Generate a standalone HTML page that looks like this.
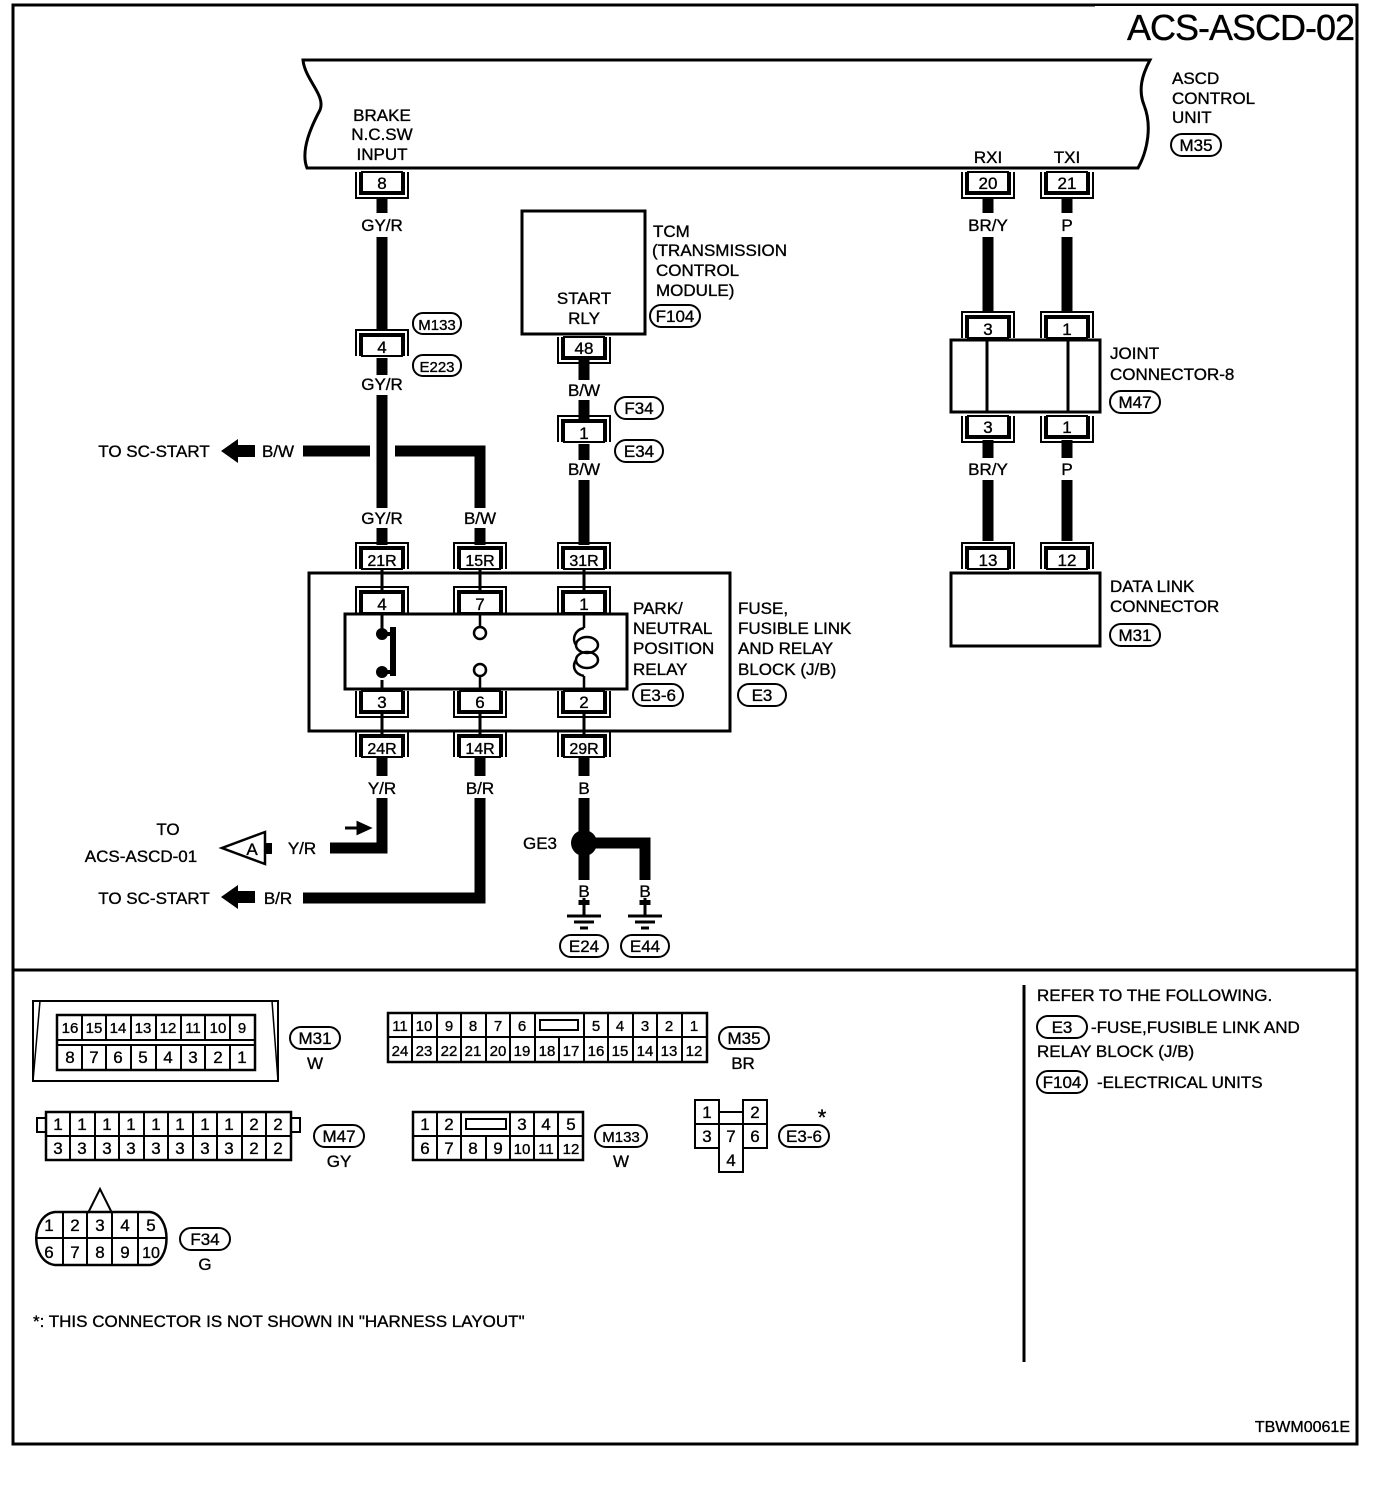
<!DOCTYPE html>
<html><head><meta charset="utf-8"><style>
html,body{margin:0;padding:0;background:#fff}
svg{display:block}
text{font-family:"Liberation Sans",Arial,sans-serif;font-size:17px;fill:#000;stroke:#000;stroke-width:0.35px}
.c{text-anchor:middle}
</style></head><body>
<svg width="1376" height="1506" viewBox="0 0 1376 1506" xmlns="http://www.w3.org/2000/svg">
<defs>
<g id="U"><rect x="-20" y="0" width="40" height="20" fill="#fff" stroke="#000" stroke-width="2"/><path d="M-26 0V26H26V0M-22 0V22H22V0" fill="none" stroke="#000" stroke-width="2"/></g>
<g id="N"><rect x="-20" y="6" width="40" height="20" fill="#fff" stroke="#000" stroke-width="2"/><path d="M-26 26V0H26V26M-22 26V4H22V26" fill="none" stroke="#000" stroke-width="2"/></g>
<g id="gnd"><path d="M0 0V18M-17 18H17M-10 24H10M-4 30H4" stroke="#000" stroke-width="3" fill="none"/></g>
</defs>
<rect x="13" y="5" width="1344" height="1439" fill="none" stroke="#000" stroke-width="3"/>
<rect x="1095" y="6" width="260" height="40" fill="#fff"/>
<text x="1354" y="40" style="font-size:36px;text-anchor:end;letter-spacing:-1px">ACS-ASCD-02</text>
<line x1="13" y1="970" x2="1357" y2="970" stroke="#000" stroke-width="3"/>
<line x1="1024" y1="985" x2="1024" y2="1362" stroke="#000" stroke-width="3"/>

<path d="M303 60H1150C1142 75 1138 90 1144 105C1152 125 1148 150 1138 168H307C300 150 312 125 320 110C326 95 305 80 303 60Z" fill="none" stroke="#000" stroke-width="3"/>
<text x="382" y="121" class="c">BRAKE</text><text x="382" y="140" class="c">N.C.SW</text><text x="382" y="160" class="c">INPUT</text>
<text x="988" y="163" class="c">RXI</text><text x="1067" y="163" class="c">TXI</text>
<text x="1172" y="84">ASCD</text><text x="1172" y="104">CONTROL</text><text x="1172" y="123">UNIT</text>
<rect x="1171" y="134" width="50" height="22" rx="11" fill="none" stroke="#000" stroke-width="2"/><text x="1196" y="151" class="c">M35</text>

<g stroke="#000" stroke-width="11" fill="none">
<path d="M382 197V213M382 237V330M382 358V375M382 395V508"/>
<path d="M584 360V380M584 400V420M584 444V460M584 480V545"/>
<path d="M303 451H370M395 451H480V508"/>
<path d="M382 528V545M480 528V545"/>
<path d="M988 197V213M988 237V312M1067 197V213M1067 237V312"/>
<path d="M988 440V458M988 480V541M1067 440V458M1067 480V541"/>
<path d="M382 757V776M480 757V776M584 757V776"/>
<path d="M382 798V848H330M480 798V898H303"/>
<path d="M584 798V880M595 843H645V880M584 900V905"/>
</g>
<use href="#U" x="382" y="172"/><text x="382" y="189" class="c">8</text>
<use href="#U" x="988" y="172"/><text x="988" y="189" class="c">20</text>
<use href="#U" x="1067" y="172"/><text x="1067" y="189" class="c">21</text>
<text x="382" y="231" class="c">GY/R</text>
<text x="988" y="231" class="c">BR/Y</text><text x="1067" y="231" class="c">P</text>
<use href="#N" x="382" y="330"/><text x="382" y="353" class="c">4</text>
<rect x="413" y="313" width="48" height="21" rx="10" fill="none" stroke="#000" stroke-width="2"/><text x="437" y="330" class="c" style="font-size:15px">M133</text>
<rect x="413" y="355" width="48" height="21" rx="10" fill="none" stroke="#000" stroke-width="2"/><text x="437" y="372" class="c" style="font-size:15px">E223</text>
<text x="382" y="390" class="c">GY/R</text>
<text x="154" y="457" class="c">TO SC-START</text>
<path d="M221 451L238 439V445H255V457H238V463Z" fill="#000"/>
<text x="278" y="457" class="c">B/W</text>
<text x="382" y="524" class="c">GY/R</text><text x="480" y="524" class="c">B/W</text>

<rect x="522" y="211" width="123" height="123" fill="none" stroke="#000" stroke-width="3"/>
<text x="584" y="304" class="c">START</text><text x="584" y="324" class="c">RLY</text>
<text x="653" y="237">TCM</text><text x="652" y="256">(TRANSMISSION</text><text x="656" y="276">CONTROL</text><text x="656" y="296">MODULE)</text>
<rect x="650" y="305" width="50" height="22" rx="11" fill="none" stroke="#000" stroke-width="2"/><text x="675" y="322" class="c">F104</text>
<use href="#U" x="584" y="337"/><text x="584" y="354" class="c">48</text>
<text x="584" y="396" class="c">B/W</text>
<use href="#N" x="584" y="416"/><text x="584" y="439" class="c">1</text>
<rect x="615" y="397" width="48" height="22" rx="11" fill="none" stroke="#000" stroke-width="2"/><text x="639" y="414" class="c">F34</text>
<rect x="615" y="440" width="48" height="22" rx="11" fill="none" stroke="#000" stroke-width="2"/><text x="639" y="457" class="c">E34</text>
<text x="584" y="475" class="c">B/W</text>

<use href="#N" x="988" y="312"/><text x="988" y="335" class="c">3</text>
<use href="#N" x="1067" y="312"/><text x="1067" y="335" class="c">1</text>
<rect x="951" y="340" width="149" height="72" fill="#fff" stroke="#000" stroke-width="3"/>
<path d="M987 340V412M1068 340V412" stroke="#000" stroke-width="3"/>
<use href="#U" x="988" y="416"/><text x="988" y="433" class="c">3</text>
<use href="#U" x="1067" y="416"/><text x="1067" y="433" class="c">1</text>
<text x="1110" y="359">JOINT</text><text x="1110" y="380">CONNECTOR-8</text>
<rect x="1110" y="391" width="50" height="22" rx="11" fill="none" stroke="#000" stroke-width="2"/><text x="1135" y="408" class="c">M47</text>
<text x="988" y="475" class="c">BR/Y</text><text x="1067" y="475" class="c">P</text>
<use href="#N" x="988" y="543"/><text x="988" y="566" class="c">13</text>
<use href="#N" x="1067" y="543"/><text x="1067" y="566" class="c">12</text>
<rect x="951" y="573" width="149" height="73" fill="#fff" stroke="#000" stroke-width="3"/>
<text x="1110" y="592">DATA LINK</text><text x="1110" y="612">CONNECTOR</text>
<rect x="1110" y="624" width="50" height="22" rx="11" fill="none" stroke="#000" stroke-width="2"/><text x="1135" y="641" class="c">M31</text>

<rect x="309" y="573" width="421" height="158" fill="none" stroke="#000" stroke-width="3"/>
<path d="M382 570V590M480 570V590M584 570V590M382 712V735M480 712V735M584 712V735" stroke="#000" stroke-width="3"/>
<use href="#N" x="382" y="543"/><text x="382" y="566" class="c" style="font-size:16px">21R</text>
<use href="#N" x="480" y="543"/><text x="480" y="566" class="c" style="font-size:16px">15R</text>
<use href="#N" x="584" y="543"/><text x="584" y="566" class="c" style="font-size:16px">31R</text>
<rect x="345" y="614" width="282" height="75" fill="#fff" stroke="#000" stroke-width="3"/>
<use href="#N" x="382" y="587"/><text x="382" y="610" class="c">4</text>
<use href="#N" x="480" y="587"/><text x="480" y="610" class="c">7</text>
<use href="#N" x="584" y="587"/><text x="584" y="610" class="c">1</text>
<use href="#U" x="382" y="691"/><text x="382" y="708" class="c">3</text>
<use href="#U" x="480" y="691"/><text x="480" y="708" class="c">6</text>
<use href="#U" x="584" y="691"/><text x="584" y="708" class="c">2</text>
<use href="#N" x="382" y="731"/><text x="382" y="754" class="c" style="font-size:16px">24R</text>
<use href="#N" x="480" y="731"/><text x="480" y="754" class="c" style="font-size:16px">14R</text>
<use href="#N" x="584" y="731"/><text x="584" y="754" class="c" style="font-size:16px">29R</text>
<path d="M382 614V632M382 680V689" stroke="#000" stroke-width="3" fill="none"/>
<path d="M393 627V676" stroke="#000" stroke-width="6"/>
<circle cx="382" cy="634" r="6"/><circle cx="382" cy="672" r="6"/>
<path d="M382 634H393M382 672H393" stroke="#000" stroke-width="4"/>
<path d="M480 614V627M480 676V689" stroke="#000" stroke-width="2.5"/>
<circle cx="480" cy="633" r="6" fill="#fff" stroke="#000" stroke-width="2.5"/>
<circle cx="480" cy="670" r="6" fill="#fff" stroke="#000" stroke-width="2.5"/>
<g fill="none" stroke="#000" stroke-width="2.5">
<path d="M584 614V628M584 676V689"/>
<path d="M584 628C574 630 572 640 576 645M576 660C572 666 574 674 584 676"/>
<ellipse cx="587" cy="645" rx="11" ry="8"/>
<ellipse cx="587" cy="660" rx="11" ry="8"/>
</g>
<text x="633" y="614">PARK/</text><text x="633" y="634">NEUTRAL</text><text x="633" y="654">POSITION</text><text x="633" y="675">RELAY</text>
<rect x="633" y="684" width="50" height="22" rx="11" fill="none" stroke="#000" stroke-width="2"/><text x="658" y="701" class="c">E3-6</text>
<text x="738" y="614">FUSE,</text><text x="738" y="634">FUSIBLE LINK</text><text x="738" y="654">AND RELAY</text><text x="738" y="675">BLOCK (J/B)</text>
<rect x="738" y="684" width="48" height="22" rx="11" fill="none" stroke="#000" stroke-width="2"/><text x="762" y="701" class="c">E3</text>

<text x="382" y="794" class="c">Y/R</text><text x="480" y="794" class="c">B/R</text><text x="584" y="794" class="c">B</text>
<path d="M345 828H358V823L369 828L358 833V828" stroke="#000" stroke-width="3" fill="#000"/>
<text x="302" y="854" class="c">Y/R</text>
<path d="M265 832L222 848L265 864Z" fill="none" stroke="#000" stroke-width="2.5"/>
<rect x="265" y="843" width="7" height="11"/>
<text x="252" y="855" class="c">A</text>
<text x="168" y="835" class="c">TO</text><text x="141" y="862" class="c">ACS-ASCD-01</text>
<text x="154" y="904" class="c">TO SC-START</text>
<path d="M221 897L238 885V891H255V903H238V909Z" fill="#000"/>
<text x="278" y="904" class="c">B/R</text>
<circle cx="584" cy="843" r="13"/>
<text x="540" y="849" class="c">GE3</text>
<text x="584" y="897" class="c">B</text><text x="645" y="897" class="c">B</text>
<path d="M645 900V905" stroke="#000" stroke-width="11"/>
<use href="#gnd" x="584" y="898"/><use href="#gnd" x="645" y="898"/>
<rect x="560" y="935" width="48" height="22" rx="11" fill="none" stroke="#000" stroke-width="2"/><text x="584" y="952" class="c">E24</text>
<rect x="621" y="935" width="48" height="22" rx="11" fill="none" stroke="#000" stroke-width="2"/><text x="645" y="952" class="c">E44</text>

<g stroke="#000" stroke-width="2" fill="none">
<path d="M33 1001H278V1081H33Z"/><path d="M33 1081L40 1001M278 1081L272 1001" stroke-width="1.5"/>
<rect x="57" y="1015" width="198" height="55" stroke-width="2.5"/>
<path d="M57 1040H255M57 1045H255" />
<path d="M82 1015V1040M106 1015V1040M131 1015V1040M156 1015V1040M181 1015V1040M205 1015V1040M230 1015V1040M82 1045V1070M106 1045V1070M131 1045V1070M156 1045V1070M181 1045V1070M205 1045V1070M230 1045V1070"/>
<rect x="388" y="1013" width="319" height="49" stroke-width="2.5"/>
<path d="M388 1037H535M584 1037H707M535 1013V1062M584 1013V1062M535 1037H584"/>
<path d="M412 1013V1062M437 1013V1062M461 1013V1062M486 1013V1062M510 1013V1062M559 1037V1062M608 1013V1062M633 1013V1062M657 1013V1062M682 1013V1062"/>
<rect x="540" y="1020" width="38" height="10"/>
<rect x="46" y="1112" width="245" height="48" stroke-width="2.5"/>
<path d="M46 1136H291M70 1112V1160M95 1112V1160M119 1112V1160M144 1112V1160M168 1112V1160M193 1112V1160M217 1112V1160M242 1112V1160M266 1112V1160"/>
<path d="M46 1118H37V1132H46M291 1118H300V1132H291"/>
<rect x="413" y="1112" width="170" height="48" stroke-width="2.5"/>
<path d="M413 1136H583M437 1112V1160M461 1112V1160M510 1112V1160M534 1112V1160M558 1112V1160M486 1136V1160"/>
<rect x="466" y="1119" width="40" height="10"/>
<path d="M695 1100H719V1148H695ZM743 1100H767V1148H743ZM719 1124H743V1172H719ZM719 1112H743M695 1124H767"/>
<path d="M55 1212H150C172 1215 172 1262 150 1265H55C30 1262 30 1215 55 1212Z" stroke-width="2.5"/>
<path d="M35 1238H166M63 1212V1265M87 1212V1265M112 1212V1265M138 1212V1265M88 1213L100 1189L112 1213"/>
</g>
<text x="70" y="1033" class="c" style="font-size:15px">16</text><text x="94" y="1033" class="c" style="font-size:15px">15</text><text x="118" y="1033" class="c" style="font-size:15px">14</text><text x="143" y="1033" class="c" style="font-size:15px">13</text><text x="168" y="1033" class="c" style="font-size:15px">12</text><text x="193" y="1033" class="c" style="font-size:15px">11</text><text x="218" y="1033" class="c" style="font-size:15px">10</text><text x="242" y="1033" class="c" style="font-size:15px">9</text>
<text x="70" y="1063" class="c">8</text><text x="94" y="1063" class="c">7</text><text x="118" y="1063" class="c">6</text><text x="143" y="1063" class="c">5</text><text x="168" y="1063" class="c">4</text><text x="193" y="1063" class="c">3</text><text x="218" y="1063" class="c">2</text><text x="242" y="1063" class="c">1</text>
<rect x="290" y="1027" width="50" height="22" rx="11" fill="none" stroke="#000" stroke-width="2"/><text x="315" y="1044" class="c">M31</text><text x="315" y="1069" class="c">W</text>
<text x="400" y="1031" class="c" style="font-size:15px">11</text><text x="424" y="1031" class="c" style="font-size:15px">10</text><text x="449" y="1031" class="c" style="font-size:15px">9</text><text x="473" y="1031" class="c" style="font-size:15px">8</text><text x="498" y="1031" class="c" style="font-size:15px">7</text><text x="522" y="1031" class="c" style="font-size:15px">6</text><text x="596" y="1031" class="c" style="font-size:15px">5</text><text x="620" y="1031" class="c" style="font-size:15px">4</text><text x="645" y="1031" class="c" style="font-size:15px">3</text><text x="669" y="1031" class="c" style="font-size:15px">2</text><text x="694" y="1031" class="c" style="font-size:15px">1</text>
<text x="400" y="1056" class="c" style="font-size:15px">24</text><text x="424" y="1056" class="c" style="font-size:15px">23</text><text x="449" y="1056" class="c" style="font-size:15px">22</text><text x="473" y="1056" class="c" style="font-size:15px">21</text><text x="498" y="1056" class="c" style="font-size:15px">20</text><text x="522" y="1056" class="c" style="font-size:15px">19</text><text x="547" y="1056" class="c" style="font-size:15px">18</text><text x="571" y="1056" class="c" style="font-size:15px">17</text><text x="596" y="1056" class="c" style="font-size:15px">16</text><text x="620" y="1056" class="c" style="font-size:15px">15</text><text x="645" y="1056" class="c" style="font-size:15px">14</text><text x="669" y="1056" class="c" style="font-size:15px">13</text><text x="694" y="1056" class="c" style="font-size:15px">12</text>
<rect x="719" y="1027" width="50" height="22" rx="11" fill="none" stroke="#000" stroke-width="2"/><text x="744" y="1044" class="c">M35</text><text x="743" y="1069" class="c">BR</text>
<text x="58" y="1130" class="c">1</text><text x="82" y="1130" class="c">1</text><text x="107" y="1130" class="c">1</text><text x="131" y="1130" class="c">1</text><text x="156" y="1130" class="c">1</text><text x="180" y="1130" class="c">1</text><text x="205" y="1130" class="c">1</text><text x="229" y="1130" class="c">1</text><text x="254" y="1130" class="c">2</text><text x="278" y="1130" class="c">2</text>
<text x="58" y="1154" class="c">3</text><text x="82" y="1154" class="c">3</text><text x="107" y="1154" class="c">3</text><text x="131" y="1154" class="c">3</text><text x="156" y="1154" class="c">3</text><text x="180" y="1154" class="c">3</text><text x="205" y="1154" class="c">3</text><text x="229" y="1154" class="c">3</text><text x="254" y="1154" class="c">2</text><text x="278" y="1154" class="c">2</text>
<rect x="314" y="1125" width="50" height="22" rx="11" fill="none" stroke="#000" stroke-width="2"/><text x="339" y="1142" class="c">M47</text><text x="339" y="1167" class="c">GY</text>
<text x="425" y="1130" class="c">1</text><text x="449" y="1130" class="c">2</text><text x="522" y="1130" class="c">3</text><text x="546" y="1130" class="c">4</text><text x="571" y="1130" class="c">5</text>
<text x="425" y="1154" class="c">6</text><text x="449" y="1154" class="c">7</text><text x="473" y="1154" class="c">8</text><text x="498" y="1154" class="c">9</text><text x="522" y="1154" class="c" style="font-size:15px">10</text><text x="546" y="1154" class="c" style="font-size:15px">11</text><text x="571" y="1154" class="c" style="font-size:15px">12</text>
<rect x="595" y="1125" width="52" height="22" rx="11" fill="none" stroke="#000" stroke-width="2"/><text x="621" y="1142" class="c" style="font-size:15px">M133</text><text x="621" y="1167" class="c">W</text>
<text x="707" y="1118" class="c">1</text><text x="755" y="1118" class="c">2</text><text x="707" y="1142" class="c">3</text><text x="731" y="1142" class="c">7</text><text x="755" y="1142" class="c">6</text><text x="731" y="1166" class="c">4</text>
<rect x="779" y="1125" width="50" height="22" rx="11" fill="none" stroke="#000" stroke-width="2"/><text x="804" y="1142" class="c">E3-6</text><text x="822" y="1125" class="c" style="font-size:22px">*</text>
<text x="49" y="1231" class="c">1</text><text x="75" y="1231" class="c">2</text><text x="100" y="1231" class="c">3</text><text x="125" y="1231" class="c">4</text><text x="151" y="1231" class="c">5</text>
<text x="49" y="1258" class="c">6</text><text x="75" y="1258" class="c">7</text><text x="100" y="1258" class="c">8</text><text x="125" y="1258" class="c">9</text><text x="151" y="1258" class="c" style="font-size:16px">10</text>
<rect x="180" y="1228" width="50" height="22" rx="11" fill="none" stroke="#000" stroke-width="2"/><text x="205" y="1245" class="c">F34</text><text x="205" y="1270" class="c">G</text>
<text x="33" y="1327">*: THIS CONNECTOR IS NOT SHOWN IN "HARNESS LAYOUT"</text>

<text x="1037" y="1001">REFER TO THE FOLLOWING.</text>
<rect x="1037" y="1016" width="50" height="22" rx="11" fill="none" stroke="#000" stroke-width="2"/><text x="1062" y="1033" class="c">E3</text>
<text x="1091" y="1033">-FUSE,FUSIBLE LINK AND</text>
<text x="1037" y="1057">RELAY BLOCK (J/B)</text>
<rect x="1037" y="1071" width="50" height="22" rx="11" fill="none" stroke="#000" stroke-width="2"/><text x="1062" y="1088" class="c">F104</text>
<text x="1097" y="1088">-ELECTRICAL UNITS</text>
<text x="1350" y="1432" style="text-anchor:end;font-size:16px">TBWM0061E</text>
</svg>
</body></html>
